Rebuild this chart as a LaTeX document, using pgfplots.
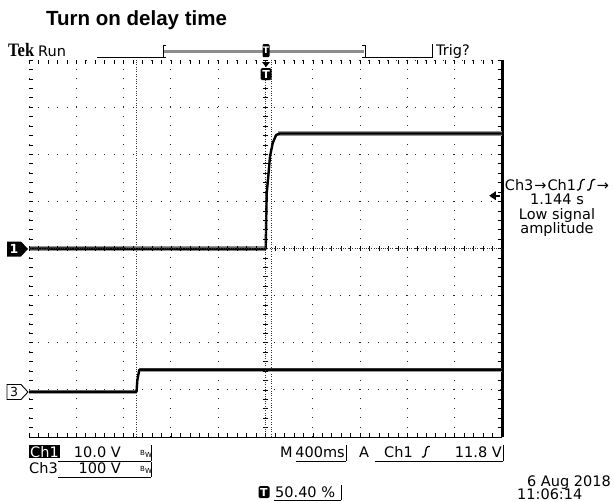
\documentclass[border=0pt]{standalone}
\usepackage{pgfplots}
\pgfplotsset{compat=1.18}
\usepackage{fontspec}
\setmainfont{DejaVu Sans}
\newfontfamily\arialb{Liberation Sans}
\newfontfamily\tekfont{Liberation Serif}
\usetikzlibrary{arrows.meta}
\newcommand{\scp}{\fontsize{14.5}{17}\selectfont}
\newcommand{\redge}{\tikz[baseline=0pt]\draw[line width=1.3pt,line cap=butt] (0,0)--(0.12em,0) .. controls (0.32em,0) and (0.2em,0.72em) .. (0.42em,0.72em)--(0.56em,0.72em);}
\newcommand{\bw}{{\fontsize{7}{7}\selectfont B\raisebox{-2pt}{W}}}
\begin{document}
\begin{tikzpicture}
\path[use as bounding box] (0pt,0pt) rectangle (614pt,-501pt);
% main graticule
\begin{axis}[
  at={(29pt,-437pt)}, anchor=south west,
  width=473pt, height=377pt, scale only axis,
  xmin=0, xmax=10, ymin=0, ymax=8,
  xtick={0,...,10}, ytick={0,...,8},
  minor x tick num=4, minor y tick num=4,
  xticklabels={}, yticklabels={},
  tick align=inside, xtick pos=both, ytick pos=both,
  major tick length=4pt, minor tick length=4pt,
  tick style={black, line width=0.6pt},
  grid=major,
  major grid style={black!85, line width=0.9pt, dash pattern=on 0.9pt off 8.52pt},
  axis line style={draw=none},
  clip=false,
]
% cursors
\draw[black!80, line width=0.8pt, dash pattern=on 0.8pt off 1.6pt] (axis cs:2.268,0) -- (axis cs:2.268,8);
\draw[black!80, line width=0.8pt, dash pattern=on 0.8pt off 1.6pt] (axis cs:5.128,0) -- (axis cs:5.128,8);
% edges
\draw[black, line width=0.8pt] (rel axis cs:0,0) -- (rel axis cs:1,0);
\draw[black, line width=3pt] (rel axis cs:1,0) -- (rel axis cs:1,1);
% Ch1 trace
\addplot[black!40, line width=4.2pt, forget plot] coordinates {(0,4.0)(5.004,4.0)};
\addplot[black!40, line width=4.2pt, forget plot] coordinates {(5.26,6.44)(10,6.44)};
\addplot[black, line width=2.4pt, line join=round] coordinates {(0,4.0)(5.004,3.99)(5.025,5.17)(5.059,5.53)(5.095,5.95)(5.153,6.24)(5.225,6.41)(5.3,6.44)(10,6.44)};
% Ch3 trace
\addplot[black!40, line width=4.2pt, forget plot] coordinates {(0,0.96)(2.273,0.96)};
\addplot[black!40, line width=4.2pt, forget plot] coordinates {(2.34,1.43)(10,1.43)};
\addplot[black, line width=2.4pt, line join=round] coordinates {(0,0.96)(2.273,0.96)(2.29,1.2)(2.332,1.43)(10,1.43)};
% trigger level arrow
\draw[line width=1.6pt] (axis cs:9.8,5.12) -- (axis cs:9.95,5.12);
\fill[black] (axis cs:9.73,5.12) -- (axis cs:9.87,5.215) -- (axis cs:9.87,5.025) -- cycle;
\end{axis}
% centre cross
\begin{axis}[
  at={(29pt,-437pt)}, anchor=south west,
  width=473pt, height=377pt, scale only axis,
  xmin=-5, xmax=5, ymin=-4, ymax=4,
  axis lines=middle,
  axis line style={-, black!80, line width=0.8pt, dash pattern=on 0.8pt off 1.56pt},
  xtick={-5,...,5}, ytick={-4,...,4},
  minor x tick num=4, minor y tick num=4,
  xticklabels={}, yticklabels={},
  tick align=center, major tick length=5pt, minor tick length=5pt,
  tick style={black, line width=0.6pt},
]
\end{axis}
% channel markers
\fill[black] (7pt,-241.5pt) -- (21pt,-241.5pt) -- (28pt,-249pt) -- (21pt,-256.5pt) -- (7pt,-256.5pt) -- cycle;
\node[text=white, font=\bfseries\fontsize{12.5}{12.5}\selectfont, inner sep=0pt] at (14pt,-249pt) {1};
\draw[black, fill=white, line width=0.9pt] (7pt,-384.5pt) -- (21pt,-384.5pt) -- (28pt,-392pt) -- (21pt,-399.5pt) -- (7pt,-399.5pt) -- cycle;
\node[font=\fontsize{12.5}{12.5}\selectfont, inner sep=0pt] at (14pt,-392pt) {3};
% title
\node[anchor=west, font=\arialb\bfseries\fontsize{20.5}{24}\selectfont, inner sep=0pt] at (46pt,-20pt) {Turn on delay time};
% header
\node[anchor=base west, font=\tekfont\bfseries\fontsize{16.5}{18}\selectfont, inner sep=0pt] at (8pt,-56.5pt) {\scalebox{1}[1.15]{Tek}};
\node[anchor=base west, font=\scp, inner sep=0pt] at (38pt,-56.5pt) {Run};
\draw[line width=0.8pt] (97pt,-57.7pt) -- (163pt,-57.7pt);
\draw[line width=0.8pt] (365pt,-57.7pt) -- (432pt,-57.7pt);
\draw[line width=0.8pt] (166pt,-45pt) -- (163pt,-45pt) -- (163pt,-57.7pt) -- (166pt,-57.7pt);
\draw[line width=0.8pt] (362pt,-45pt) -- (365pt,-45pt) -- (365pt,-57.7pt) -- (362pt,-57.7pt);
\fill[black!45] (164pt,-49.5pt) rectangle (364pt,-52.5pt);
\draw[line width=0.8pt] (432pt,-44pt) -- (432pt,-58pt);
\node[anchor=base west, font=\scp, inner sep=0pt] at (436pt,-55.5pt) {Trig?};
\node[fill=black, text=white, rounded corners=1pt, inner sep=0pt, minimum width=7pt, minimum height=13pt, font=\bfseries\fontsize{9}{9}\selectfont] at (266pt,-50.5pt) {T};
\fill[black] (262pt,-62pt) -- (270pt,-62pt) -- (266pt,-67pt) -- cycle;
\node[fill=black, text=white, rounded corners=1.5pt, inner sep=0pt, minimum width=11pt, minimum height=12pt, font=\bfseries\fontsize{11}{11}\selectfont] at (266pt,-74pt) {T};
% right readout
\node[anchor=base, font=\scp, inner sep=0pt] at (557pt,-190pt) {Ch3\kern1pt→\kern1ptCh1\redge\kern1pt\redge\kern1pt→};
\node[anchor=base, font=\scp, inner sep=0pt] at (557pt,-204pt) {1.144 s};
\node[anchor=base, font=\scp, inner sep=0pt] at (557pt,-219pt) {Low signal};
\node[anchor=base, font=\scp, inner sep=0pt] at (557pt,-233pt) {amplitude};
% bottom rows
\node[anchor=base west, fill=black, text=white, inner sep=1pt, font=\scp] at (29pt,-457pt) {Ch1};
\node[anchor=base east, font=\scp, inner sep=0pt] at (121pt,-457pt) {10.0 V};
\node[anchor=base west, inner sep=0pt] at (140pt,-455pt) {\bw};
\draw[line width=0.8pt] (58pt,-461pt) -- (151pt,-461pt);
\draw[line width=0.8pt] (151pt,-445pt) -- (151pt,-461pt);
\node[anchor=base west, font=\scp, inner sep=0pt] at (29pt,-473pt) {Ch3};
\node[anchor=base east, font=\scp, inner sep=0pt] at (121pt,-473pt) {100 V};
\node[anchor=base west, inner sep=0pt] at (140pt,-471pt) {\bw};
\draw[line width=0.8pt] (58pt,-477pt) -- (151pt,-477pt);
\draw[line width=0.8pt] (151pt,-462pt) -- (151pt,-477pt);
\node[anchor=base west, font=\scp, inner sep=0pt] at (280pt,-457pt) {M};
\node[anchor=base east, font=\scp, inner sep=0pt] at (345pt,-457pt) {400ms};
\draw[line width=0.8pt] (296pt,-461pt) -- (346pt,-461pt);
\draw[line width=0.8pt] (346pt,-445pt) -- (346pt,-461pt);
\node[anchor=base west, font=\scp, inner sep=0pt] at (359pt,-457pt) {A};
\node[anchor=base west, font=\scp, inner sep=0pt] at (384pt,-457pt) {Ch1};
\node[anchor=base west, font=\scp, inner sep=0pt] at (421pt,-457pt) {\redge};
\node[anchor=base east, font=\scp, inner sep=0pt] at (502pt,-457pt) {11.8 V};
\draw[line width=0.8pt] (375pt,-461pt) -- (503pt,-461pt);
\draw[line width=0.8pt] (503pt,-445pt) -- (503pt,-461pt);
\node[fill=black, text=white, rounded corners=1.5pt, inner sep=0pt, minimum width=11pt, minimum height=12pt, font=\bfseries\fontsize{11}{11}\selectfont] at (264pt,-492pt) {T};
\node[anchor=base west, font=\scp, inner sep=0pt] at (275pt,-497pt) {50.40 \%};
\draw[line width=0.8pt] (274pt,-500pt) -- (341pt,-500pt);
\draw[line width=0.8pt] (341pt,-485pt) -- (341pt,-500pt);
\node[anchor=base east, font=\scp, inner sep=0pt] at (611pt,-486pt) {6 Aug 2018};
\node[anchor=base west, font=\scp, inner sep=0pt] at (517pt,-499pt) {11:06:14};
\end{tikzpicture}
\end{document}
